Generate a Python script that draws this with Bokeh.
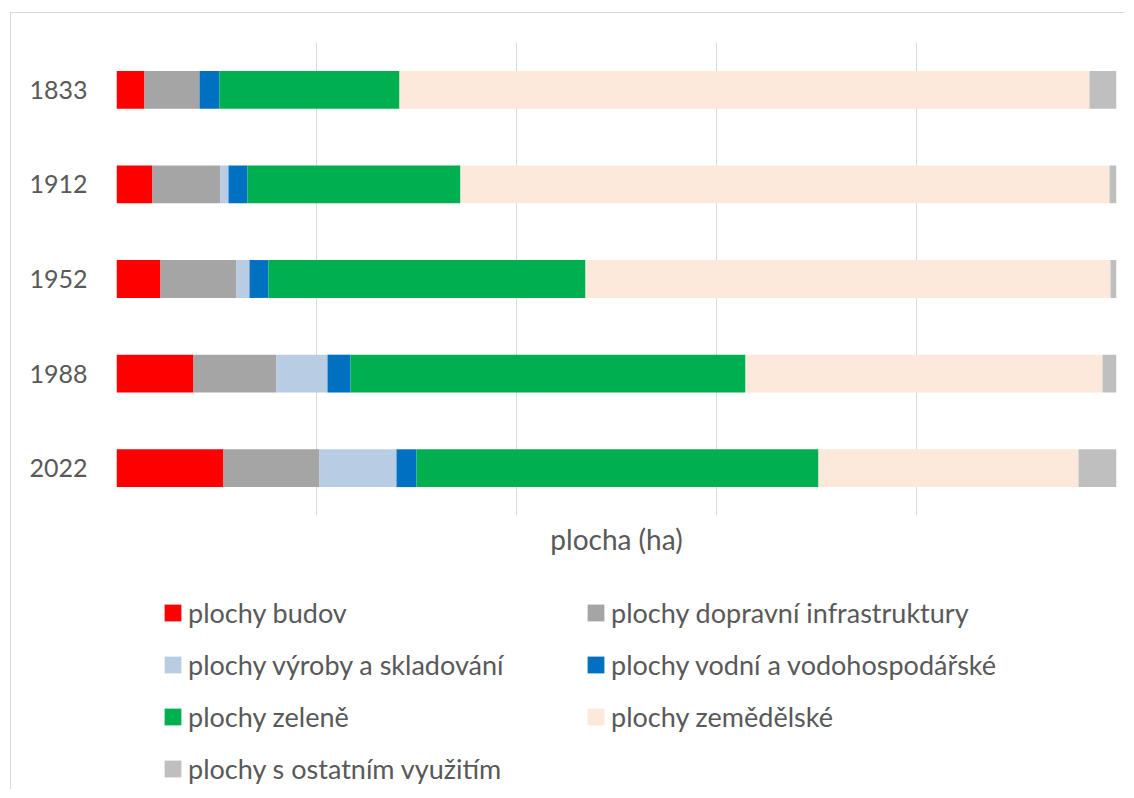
from bokeh.plotting import figure
from bokeh.layouts import column
from bokeh.models import (ColumnDataSource, FactorRange, Range1d, FixedTicker,
                          Legend, LegendItem, Grid)
from bokeh.embed import file_html
from bokeh.resources import INLINE

# ---- data (share of area, %) ----
years = ["1833", "1912", "1952", "1988", "2022"]
budov = [2.8, 3.6, 4.4, 7.7, 10.7]
doprava = [5.5, 6.8, 7.6, 8.3, 9.6]
vyroba = [0.0, 0.8, 1.3, 5.1, 7.7]
vodni = [2.0, 1.9, 1.9, 2.3, 2.0]
zelen = [18.0, 21.3, 31.7, 39.5, 40.2]
zemedelske = [69.0, 64.9, 52.5, 35.7, 26.0]
ostatni = [2.7, 0.7, 0.6, 1.4, 3.8]

series_keys = ["budov", "doprava", "vyroba", "vodni", "zelen", "zemedelske", "ostatni"]
series_labels = ["plochy budov", "plochy dopravní infrastruktury",
                 "plochy výroby a skladování", "plochy vodní a vodohospodářské",
                 "plochy zeleně", "plochy zemědělské", "plochy s ostatním využitím"]
series_colors = ["#FF0000", "#A5A5A5", "#B8CCE4", "#0070C0", "#00B050", "#FCE9DB", "#BFBFBF"]
x_ticks = [0, 20, 40, 60, 80, 100]

source = ColumnDataSource(dict(year=years, budov=budov, doprava=doprava, vyroba=vyroba,
                               vodni=vodni, zelen=zelen, zemedelske=zemedelske,
                               ostatni=ostatni))

FONT = "Lato"
TXT = "#595959"

# ---------------- main chart ----------------
p = figure(width=1114, height=560, output_backend="svg", toolbar_location=None,
           y_range=FactorRange(factors=list(reversed(years)), range_padding=0),
           x_range=Range1d(0, 100))
p.min_border_left = 105
p.min_border_right = 9
p.min_border_top = 29
p.min_border_bottom = 58
p.outline_line_color = None
p.background_fill_color = "white"
p.border_fill_color = "white"

renderers = p.hbar_stack(series_keys, y="year", height=0.4, color=series_colors,
                         line_color=None, source=source)

p.xgrid.visible = False
p.ygrid.grid_line_color = None
p.add_layout(Grid(dimension=0, ticker=FixedTicker(ticks=x_ticks),
                  grid_line_color="#D9D9D9", grid_line_width=1))

p.xaxis.ticker = FixedTicker(ticks=[])
p.xaxis.axis_line_color = None
p.xaxis.major_tick_line_color = None
p.xaxis.minor_tick_line_color = None
p.xaxis.major_label_standoff = 0
p.xaxis.axis_label = "plocha (ha)"
p.xaxis.axis_label_text_font = FONT
p.xaxis.axis_label_text_font_size = "28px"
p.xaxis.axis_label_text_font_style = "normal"
p.xaxis.axis_label_text_color = TXT
p.xaxis.axis_label_standoff = 6

p.yaxis.axis_line_color = None
p.yaxis.major_tick_line_color = None
p.yaxis.major_tick_out = 0
p.yaxis.major_tick_in = 0
p.yaxis.major_label_standoff = 29
p.yaxis.major_label_text_font = FONT
p.yaxis.major_label_text_font_size = "25px"
p.yaxis.major_label_text_color = TXT

# ---------------- legend panel ----------------
lf = figure(width=1114, height=216, output_backend="svg", toolbar_location=None,
            x_axis_type=None, y_axis_type=None,
            x_range=Range1d(0, 100), y_range=FactorRange(factors=list(reversed(years))))
lf.min_border_left = 0
lf.min_border_right = 0
lf.min_border_top = 0
lf.min_border_bottom = 0
lf.outline_line_color = None
lf.xgrid.visible = False
lf.ygrid.visible = False

swatches = lf.hbar_stack(series_keys, y="year", height=0.4, color=series_colors,
                         line_color=None, source=source)
for r in swatches:
    r.visible = False


def make_legend(idx, loc):
    items = [LegendItem(label=series_labels[i], renderers=[swatches[i]]) for i in idx]
    lg = Legend(items=items, location=loc, orientation="vertical",
                glyph_width=21, glyph_height=21, label_standoff=5,
                label_height=33, spacing=19, padding=0, margin=0,
                label_text_font=FONT, label_text_font_size="27px",
                label_text_color=TXT, border_line_color=None,
                background_fill_alpha=0, inactive_fill_alpha=0,
                click_policy="none")
    lf.add_layout(lg, "center")


make_legend([0, 2, 4, 6], (46, 4))
make_legend([1, 3, 5], (469, 56))

layout = column(p, lf, spacing=0)
layout.styles = {"border-left": "1px solid #D9D9D9", "border-top": "1px solid #D9D9D9",
                 "margin-left": "10px", "margin-top": "12px"}

open("out.html", "w").write(file_html(layout, INLINE))
